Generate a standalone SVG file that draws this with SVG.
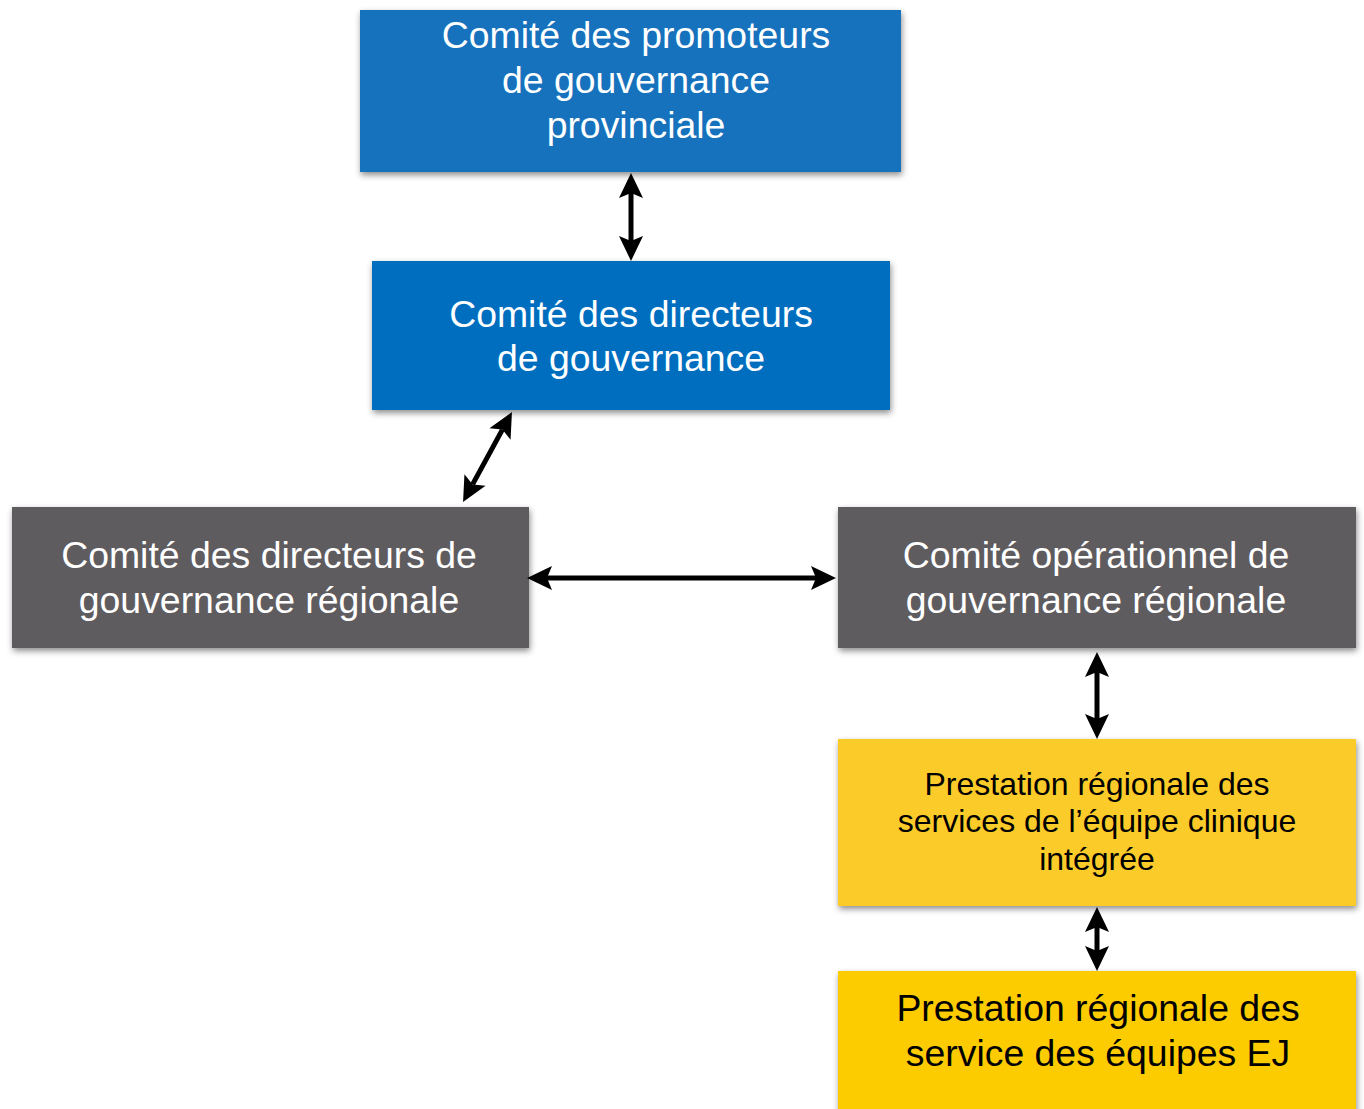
<svg xmlns="http://www.w3.org/2000/svg" width="1364" height="1109" viewBox="0 0 1364 1109">
<style>
.lbl{font-family:"Liberation Sans",Arial,sans-serif;text-anchor:middle}
.w{fill:#ffffff;font-size:37.4px}
.k{fill:#000000}
.box{filter:url(#sh)}
.conn{stroke:#000;stroke-width:5;fill:none;marker-start:url(#ah);marker-end:url(#ah)}
</style>
<defs>
<filter id="sh" x="-10%" y="-10%" width="120%" height="130%">
<feDropShadow dx="1" dy="3" stdDeviation="3" flood-color="#000" flood-opacity="0.45"/>
</filter>
<marker id="ah" markerUnits="userSpaceOnUse" viewBox="-6 -13 27 26" refX="0" refY="0" markerWidth="27" markerHeight="26" orient="auto-start-reverse" overflow="visible">
<path d="M20,0 L-5,-12 L0,0 L-5,12 Z" fill="#000"/>
</marker>
</defs>
<rect width="1364" height="1109" fill="#fff"/>
<g id="n1">
<rect class="box" x="360" y="10" width="541" height="162" fill="#1272BD"/>
<text class="lbl w" x="636" y="48">Comité des promoteurs</text>
<text class="lbl w" x="636" y="93">de gouvernance</text>
<text class="lbl w" x="636" y="138">provinciale</text>
</g>
<g id="n2">
<rect class="box" x="372" y="261" width="518" height="149" fill="#006EBF"/>
<text class="lbl w" x="631" y="327">Comité des directeurs</text>
<text class="lbl w" x="631" y="371">de gouvernance</text>
</g>
<g id="n3">
<rect class="box" x="12" y="507" width="517" height="141" fill="#5F5C5E"/>
<text class="lbl w" x="269" y="568">Comité des directeurs de</text>
<text class="lbl w" x="269" y="613">gouvernance régionale</text>
</g>
<g id="n4">
<rect class="box" x="838" y="507" width="518" height="141" fill="#5F5C5E"/>
<text class="lbl w" x="1096" y="568">Comité opérationnel de</text>
<text class="lbl w" x="1096" y="613">gouvernance régionale</text>
</g>
<g id="n5">
<rect class="box" x="838" y="739" width="518" height="167" fill="#FBCB2A"/>
<text class="lbl k" font-size="32" x="1097" y="795">Prestation régionale des</text>
<text class="lbl k" font-size="32" x="1097" y="832">services de l’équipe clinique</text>
<text class="lbl k" font-size="32" x="1097" y="870">intégrée</text>
</g>
<g id="n6">
<rect class="box" x="838" y="971" width="518" height="150" fill="#FCCC00"/>
<text class="lbl k" font-size="37.4" x="1098" y="1021">Prestation régionale des</text>
<text class="lbl k" font-size="37.4" x="1098" y="1066">service des équipes EJ</text>
</g>
<g id="connectors">
<line class="conn" x1="631" y1="193" x2="631" y2="241"/>
<line class="conn" x1="502.4" y1="429.6" x2="472.6" y2="484.4"/>
<line class="conn" x1="547" y1="578" x2="816" y2="578"/>
<line class="conn" x1="1097" y1="672" x2="1097" y2="719"/>
<line class="conn" x1="1097" y1="927" x2="1097" y2="951"/>
</g>
</svg>
